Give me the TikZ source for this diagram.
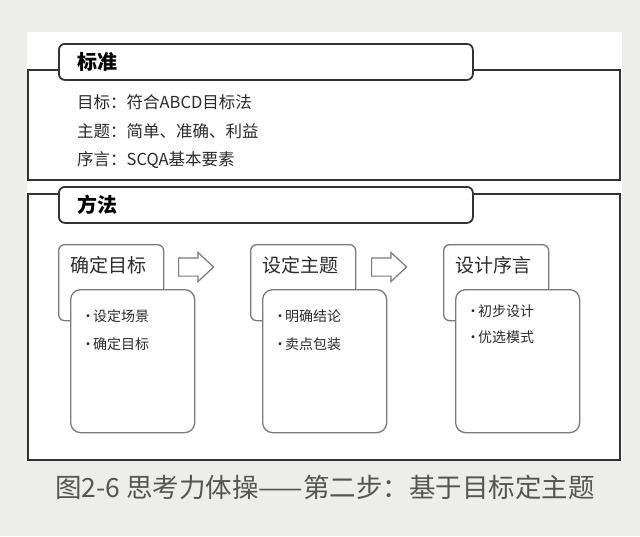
\documentclass[tikz,border=0pt]{standalone}
\usepackage{fontspec}
\setmainfont{Noto Sans CJK SC}
\usetikzlibrary{shapes.arrows}

\definecolor{pagegray}{HTML}{EDEDEB}
\definecolor{framegray}{HTML}{333333}
\definecolor{boxgray}{HTML}{7A7A7A}
\definecolor{inkgray}{HTML}{2B2B2B}
\definecolor{capgray}{HTML}{555555}

\newcommand*{\frameL}{28}
\newcommand*{\frameR}{620}
\newcommand*{\bul}{\makebox[12pt][l]{\textbullet}}

\begin{document}
\begin{tikzpicture}
[
	x=1pt, y=-1pt,
	frame/.style={draw=framegray, line width=2},
	tab/.style={draw=framegray, line width=1.8, fill=white, rounded corners=6,
		anchor=north west, text width=376, inner xsep=19, inner ysep=0,
		text height=25.6, text depth=10.4, align=left,
		font=\fontsize{20}{20}\selectfont\bfseries},
	line/.style={anchor=west, inner sep=0, text=inkgray, font=\fontsize{16.5}{16.5}\selectfont},
	stephead/.style={draw=boxgray, line width=1.3, fill=white, rounded corners=6,
		anchor=north west, text width=81, inner xsep=12, inner ysep=0,
		text height=28, text depth=48, align=left, text=inkgray,
		font=\fontsize{19}{19}\selectfont},
	stepbody/.style={draw=boxgray, line width=1.3, fill=white, rounded corners=10,
		anchor=north west, minimum width=124, minimum height=143, inner sep=0},
	point/.style={anchor=west, inner sep=0, text=inkgray, font=\fontsize{14}{14}\selectfont},
	blockarrow/.style={draw=boxgray, line width=1.2, fill=white, single arrow,
		anchor=tail, minimum height=35, inner xsep=0, inner ysep=8.5,
		single arrow head extend=5.5, single arrow tip angle=86},
	caption/.style={anchor=west, inner sep=0, text=capgray, font=\fontsize{26.5}{26.5}\selectfont}
]

	% page
	\useasboundingbox (0,0) rectangle (640,536);
	\fill[pagegray] (0,0) rectangle (640,536);
	\fill[white] (27,32) rectangle (622,461);

	% standard
	\draw[frame] (\frameL,70) rectangle (\frameR,180);
	\node[tab] (stdtab) at (58,43) {标准};
	\node[line] (goal) at (77,102) {目标：符合ABCD目标法};
	\node[line] (theme) at (77,131) {主题：简单、准确、利益};
	\node[line] (preface) at (77,160) {序言：SCQA基本要素};

	% method
	\draw[frame] (\frameL,194) rectangle (\frameR,460);
	\node[tab] (mtab) at (58,186) {方法};

	% steps
	\foreach \n/\x/\ya/\yb/\head/\first/\second in
		{1/58/316/344/确定目标/设定场景/确定目标,
		 2/250/316/344/设定主题/明确结论/卖点包装,
		 3/443/311/337/设计序言/初步设计/优选模式} {
		\node[stephead] (head\n) at (\x,244) {\head};
		\node[stepbody] (body\n) at ([xshift=12pt,yshift=-45pt]head\n.north west) {};
		\node[point] (first\n) at (\x+23,\ya) {\bul\first};
		\node[point] (second\n) at (\x+23,\yb) {\bul\second};
	}

	% arrows
	\node[blockarrow] (arrow1) at (178,267) {};
	\node[blockarrow] (arrow2) at (371,267) {};

	% caption
	\node[caption] (cap) at (55,487) {图2-6 思考力体操——第二步：基于目标定主题};

\end{tikzpicture}
\end{document}
